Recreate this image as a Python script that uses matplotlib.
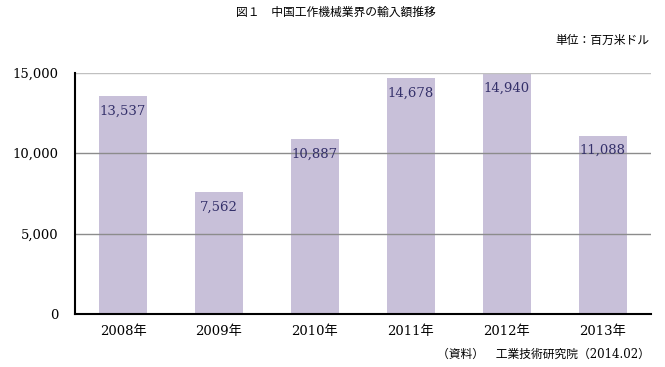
import matplotlib.pyplot as plt
import numpy as np

# === データ ===
years = ["2008年", "2009年", "2010年", "2011年", "2012年", "2013年"]
values = [13537, 7562, 10887, 14678, 14940, 11088]
yticks = [0, 5000, 10000, 15000]

fam = ['DejaVu Serif', 'Noto Sans CJK JP']
plt.rcParams['font.family'] = fam

fig = plt.figure(figsize=(6.65, 3.67), dpi=100)
ax = fig.add_axes([0.1128, 0.1444, 0.866, 0.657])

x = np.arange(len(years))
ax.bar(x, values, width=0.5, color='#c8c0d9', zorder=1)

for xi, v in zip(x, values):
    ax.annotate(f"{v:,}", (xi, v), xytext=(0, -6), textcoords='offset points',
                ha='center', va='top', fontsize=9.5, color='#34306a', zorder=3)

ax.set_xlim(-0.5, len(years) - 0.5)
ax.set_ylim(0, 15000)
ax.set_yticks(yticks)
ax.set_yticklabels([f"{t:,}" for t in yticks], fontsize=9.5)
ax.set_xticks(x)
ax.set_xticklabels(years, fontsize=9.5)
ax.tick_params(length=0, pad=8)
ax.tick_params(axis='y', pad=12)

for t in yticks[1:]:
    ax.axhline(t, color='#8c8c8c' if t < 15000 else '#c0c0c0', lw=1, zorder=2)

ax.spines['top'].set_visible(False)
ax.spines['right'].set_visible(False)
ax.spines['left'].set_color('black')
ax.spines['bottom'].set_color('black')
ax.spines['left'].set_linewidth(1.5)
ax.spines['bottom'].set_linewidth(1.5)

fig.text(0.505, 0.967, "図１　中国工作機械業界の輸入額推移", ha='center', va='center', fontsize=8.5)
fig.text(0.977, 0.89, "単位：百万米ドル", ha='right', va='center', fontsize=8.5)
fig.text(0.977, 0.035, "（資料）　工業技術研究院（2014.02）", ha='right', va='center', fontsize=8.5)

fig.savefig("out.png", dpi=100)
